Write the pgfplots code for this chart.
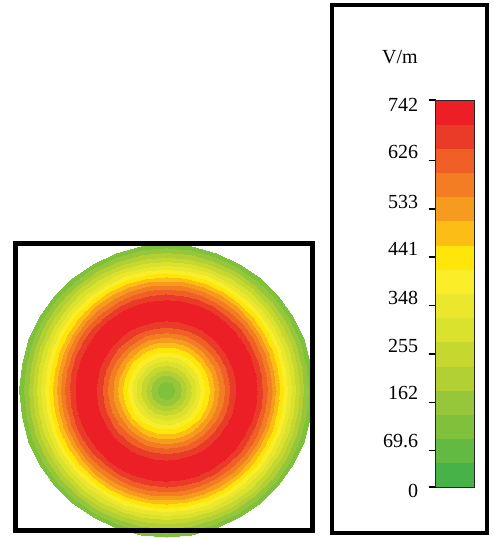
\documentclass[border=0pt]{standalone}
\usepackage{pgfplots}
\pgfplotsset{compat=1.18}
\usepackage{fontspec}
\setmainfont{Liberation Serif}
\newcommand{\lab}[2]{\raisebox{#1}[\height][\depth]{#2}}
\pgfplotsset{colormap={field}{
 rgb255=(70,178,72) rgb255=(98,186,66) rgb255=(128,193,60) rgb255=(150,199,58)
 rgb255=(178,208,52) rgb255=(198,216,48) rgb255=(218,226,46) rgb255=(234,231,44)
 rgb255=(250,238,40) rgb255=(255,230,10) rgb255=(252,190,20) rgb255=(247,155,30)
 rgb255=(243,125,35) rgb255=(240,95,38) rgb255=(234,58,40) rgb255=(236,30,38)}}
\begin{document}
\begin{tikzpicture}
\path (0pt,0pt) rectangle (494pt,538pt);
\coordinate (cbpos) at (427pt,51pt);
\begin{axis}[
  at={(15.5pt,8pt)}, anchor=south west,
  scale only axis, width=297pt, height=286.5pt,
  view={0}{90},
  xmin=-1.027, xmax=1.0, ymin=-0.952, ymax=1.003,
  xtick=\empty, ytick=\empty, ztick=\empty,
  axis line style={line width=5pt, black, line cap=rect},
  clip=false,
  colormap name=field,
  colormap access=piecewise constant,
  point meta min=0, point meta max=742,
  colorbar,
  colorbar style={
    at={(cbpos)}, anchor=south west,
    scale only axis, width=39pt, height=387pt,
    ytick={0,69.6,162,255,348,441,533,626,742},
    yticklabels={\lab{-4pt}{0},\lab{9.25pt}{69.6},\lab{9.5pt}{162},\lab{7.75pt}{255},\lab{8pt}{348},\lab{8.25pt}{441},\lab{7.5pt}{533},\lab{8.75pt}{626},\lab{-5pt}{742}},
    ytick pos=left, yticklabel pos=left,
    tick align=outside, major tick length=7pt,
    major tick style={line width=1.2pt, black},
    axis line style={line width=0.8pt, black!85, line cap=butt},
    yticklabel style={font=\fontsize{20}{20}\selectfont, xshift=-7pt},
  },
]
\addplot3[surf, shader=interp, data cs=polar, mesh/rows=21, mesh/cols=37, mesh/ordering=y varies,
  point meta=\thisrow{E}] table[x=a, y=r, z=E, row sep=\\] {
a r E\\
0 0 110\\ 0 0.05 130\\ 0 0.1 180\\ 0 0.15 250\\ 0 0.2 320\\ 0 0.25 400\\ 0 0.3 470\\ 0 0.35 540\\ 0 0.4 610\\ 0 0.45 670\\ 0 0.5 720\\ 0 0.55 742\\ 0 0.6 720\\ 0 0.65 660\\ 0 0.7 590\\ 0 0.75 510\\ 0 0.8 420\\ 0 0.85 330\\ 0 0.9 250\\ 0 0.95 170\\ 0 1 100\\
10 0 110\\ 10 0.05 130\\ 10 0.1 180\\ 10 0.15 250\\ 10 0.2 320\\ 10 0.25 400\\ 10 0.3 470\\ 10 0.35 540\\ 10 0.4 610\\ 10 0.45 670\\ 10 0.5 720\\ 10 0.55 742\\ 10 0.6 720\\ 10 0.65 660\\ 10 0.7 590\\ 10 0.75 510\\ 10 0.8 420\\ 10 0.85 330\\ 10 0.9 250\\ 10 0.95 170\\ 10 1 100\\
20 0 110\\ 20 0.05 130\\ 20 0.1 180\\ 20 0.15 250\\ 20 0.2 320\\ 20 0.25 400\\ 20 0.3 470\\ 20 0.35 540\\ 20 0.4 610\\ 20 0.45 670\\ 20 0.5 720\\ 20 0.55 742\\ 20 0.6 720\\ 20 0.65 660\\ 20 0.7 590\\ 20 0.75 510\\ 20 0.8 420\\ 20 0.85 330\\ 20 0.9 250\\ 20 0.95 170\\ 20 1 100\\
30 0 110\\ 30 0.05 130\\ 30 0.1 180\\ 30 0.15 250\\ 30 0.2 320\\ 30 0.25 400\\ 30 0.3 470\\ 30 0.35 540\\ 30 0.4 610\\ 30 0.45 670\\ 30 0.5 720\\ 30 0.55 742\\ 30 0.6 720\\ 30 0.65 660\\ 30 0.7 590\\ 30 0.75 510\\ 30 0.8 420\\ 30 0.85 330\\ 30 0.9 250\\ 30 0.95 170\\ 30 1 100\\
40 0 110\\ 40 0.05 130\\ 40 0.1 180\\ 40 0.15 250\\ 40 0.2 320\\ 40 0.25 400\\ 40 0.3 470\\ 40 0.35 540\\ 40 0.4 610\\ 40 0.45 670\\ 40 0.5 720\\ 40 0.55 742\\ 40 0.6 720\\ 40 0.65 660\\ 40 0.7 590\\ 40 0.75 510\\ 40 0.8 420\\ 40 0.85 330\\ 40 0.9 250\\ 40 0.95 170\\ 40 1 100\\
50 0 110\\ 50 0.05 130\\ 50 0.1 180\\ 50 0.15 250\\ 50 0.2 320\\ 50 0.25 400\\ 50 0.3 470\\ 50 0.35 540\\ 50 0.4 610\\ 50 0.45 670\\ 50 0.5 720\\ 50 0.55 742\\ 50 0.6 720\\ 50 0.65 660\\ 50 0.7 590\\ 50 0.75 510\\ 50 0.8 420\\ 50 0.85 330\\ 50 0.9 250\\ 50 0.95 170\\ 50 1 100\\
60 0 110\\ 60 0.05 130\\ 60 0.1 180\\ 60 0.15 250\\ 60 0.2 320\\ 60 0.25 400\\ 60 0.3 470\\ 60 0.35 540\\ 60 0.4 610\\ 60 0.45 670\\ 60 0.5 720\\ 60 0.55 742\\ 60 0.6 720\\ 60 0.65 660\\ 60 0.7 590\\ 60 0.75 510\\ 60 0.8 420\\ 60 0.85 330\\ 60 0.9 250\\ 60 0.95 170\\ 60 1 100\\
70 0 110\\ 70 0.05 130\\ 70 0.1 180\\ 70 0.15 250\\ 70 0.2 320\\ 70 0.25 400\\ 70 0.3 470\\ 70 0.35 540\\ 70 0.4 610\\ 70 0.45 670\\ 70 0.5 720\\ 70 0.55 742\\ 70 0.6 720\\ 70 0.65 660\\ 70 0.7 590\\ 70 0.75 510\\ 70 0.8 420\\ 70 0.85 330\\ 70 0.9 250\\ 70 0.95 170\\ 70 1 100\\
80 0 110\\ 80 0.05 130\\ 80 0.1 180\\ 80 0.15 250\\ 80 0.2 320\\ 80 0.25 400\\ 80 0.3 470\\ 80 0.35 540\\ 80 0.4 610\\ 80 0.45 670\\ 80 0.5 720\\ 80 0.55 742\\ 80 0.6 720\\ 80 0.65 660\\ 80 0.7 590\\ 80 0.75 510\\ 80 0.8 420\\ 80 0.85 330\\ 80 0.9 250\\ 80 0.95 170\\ 80 1 100\\
90 0 110\\ 90 0.05 130\\ 90 0.1 180\\ 90 0.15 250\\ 90 0.2 320\\ 90 0.25 400\\ 90 0.3 470\\ 90 0.35 540\\ 90 0.4 610\\ 90 0.45 670\\ 90 0.5 720\\ 90 0.55 742\\ 90 0.6 720\\ 90 0.65 660\\ 90 0.7 590\\ 90 0.75 510\\ 90 0.8 420\\ 90 0.85 330\\ 90 0.9 250\\ 90 0.95 170\\ 90 1 100\\
100 0 110\\ 100 0.05 130\\ 100 0.1 180\\ 100 0.15 250\\ 100 0.2 320\\ 100 0.25 400\\ 100 0.3 470\\ 100 0.35 540\\ 100 0.4 610\\ 100 0.45 670\\ 100 0.5 720\\ 100 0.55 742\\ 100 0.6 720\\ 100 0.65 660\\ 100 0.7 590\\ 100 0.75 510\\ 100 0.8 420\\ 100 0.85 330\\ 100 0.9 250\\ 100 0.95 170\\ 100 1 100\\
110 0 110\\ 110 0.05 130\\ 110 0.1 180\\ 110 0.15 250\\ 110 0.2 320\\ 110 0.25 400\\ 110 0.3 470\\ 110 0.35 540\\ 110 0.4 610\\ 110 0.45 670\\ 110 0.5 720\\ 110 0.55 742\\ 110 0.6 720\\ 110 0.65 660\\ 110 0.7 590\\ 110 0.75 510\\ 110 0.8 420\\ 110 0.85 330\\ 110 0.9 250\\ 110 0.95 170\\ 110 1 100\\
120 0 110\\ 120 0.05 130\\ 120 0.1 180\\ 120 0.15 250\\ 120 0.2 320\\ 120 0.25 400\\ 120 0.3 470\\ 120 0.35 540\\ 120 0.4 610\\ 120 0.45 670\\ 120 0.5 720\\ 120 0.55 742\\ 120 0.6 720\\ 120 0.65 660\\ 120 0.7 590\\ 120 0.75 510\\ 120 0.8 420\\ 120 0.85 330\\ 120 0.9 250\\ 120 0.95 170\\ 120 1 100\\
130 0 110\\ 130 0.05 130\\ 130 0.1 180\\ 130 0.15 250\\ 130 0.2 320\\ 130 0.25 400\\ 130 0.3 470\\ 130 0.35 540\\ 130 0.4 610\\ 130 0.45 670\\ 130 0.5 720\\ 130 0.55 742\\ 130 0.6 720\\ 130 0.65 660\\ 130 0.7 590\\ 130 0.75 510\\ 130 0.8 420\\ 130 0.85 330\\ 130 0.9 250\\ 130 0.95 170\\ 130 1 100\\
140 0 110\\ 140 0.05 130\\ 140 0.1 180\\ 140 0.15 250\\ 140 0.2 320\\ 140 0.25 400\\ 140 0.3 470\\ 140 0.35 540\\ 140 0.4 610\\ 140 0.45 670\\ 140 0.5 720\\ 140 0.55 742\\ 140 0.6 720\\ 140 0.65 660\\ 140 0.7 590\\ 140 0.75 510\\ 140 0.8 420\\ 140 0.85 330\\ 140 0.9 250\\ 140 0.95 170\\ 140 1 100\\
150 0 110\\ 150 0.05 130\\ 150 0.1 180\\ 150 0.15 250\\ 150 0.2 320\\ 150 0.25 400\\ 150 0.3 470\\ 150 0.35 540\\ 150 0.4 610\\ 150 0.45 670\\ 150 0.5 720\\ 150 0.55 742\\ 150 0.6 720\\ 150 0.65 660\\ 150 0.7 590\\ 150 0.75 510\\ 150 0.8 420\\ 150 0.85 330\\ 150 0.9 250\\ 150 0.95 170\\ 150 1 100\\
160 0 110\\ 160 0.05 130\\ 160 0.1 180\\ 160 0.15 250\\ 160 0.2 320\\ 160 0.25 400\\ 160 0.3 470\\ 160 0.35 540\\ 160 0.4 610\\ 160 0.45 670\\ 160 0.5 720\\ 160 0.55 742\\ 160 0.6 720\\ 160 0.65 660\\ 160 0.7 590\\ 160 0.75 510\\ 160 0.8 420\\ 160 0.85 330\\ 160 0.9 250\\ 160 0.95 170\\ 160 1 100\\
170 0 110\\ 170 0.05 130\\ 170 0.1 180\\ 170 0.15 250\\ 170 0.2 320\\ 170 0.25 400\\ 170 0.3 470\\ 170 0.35 540\\ 170 0.4 610\\ 170 0.45 670\\ 170 0.5 720\\ 170 0.55 742\\ 170 0.6 720\\ 170 0.65 660\\ 170 0.7 590\\ 170 0.75 510\\ 170 0.8 420\\ 170 0.85 330\\ 170 0.9 250\\ 170 0.95 170\\ 170 1 100\\
180 0 110\\ 180 0.05 130\\ 180 0.1 180\\ 180 0.15 250\\ 180 0.2 320\\ 180 0.25 400\\ 180 0.3 470\\ 180 0.35 540\\ 180 0.4 610\\ 180 0.45 670\\ 180 0.5 720\\ 180 0.55 742\\ 180 0.6 720\\ 180 0.65 660\\ 180 0.7 590\\ 180 0.75 510\\ 180 0.8 420\\ 180 0.85 330\\ 180 0.9 250\\ 180 0.95 170\\ 180 1 100\\
190 0 110\\ 190 0.05 130\\ 190 0.1 180\\ 190 0.15 250\\ 190 0.2 320\\ 190 0.25 400\\ 190 0.3 470\\ 190 0.35 540\\ 190 0.4 610\\ 190 0.45 670\\ 190 0.5 720\\ 190 0.55 742\\ 190 0.6 720\\ 190 0.65 660\\ 190 0.7 590\\ 190 0.75 510\\ 190 0.8 420\\ 190 0.85 330\\ 190 0.9 250\\ 190 0.95 170\\ 190 1 100\\
200 0 110\\ 200 0.05 130\\ 200 0.1 180\\ 200 0.15 250\\ 200 0.2 320\\ 200 0.25 400\\ 200 0.3 470\\ 200 0.35 540\\ 200 0.4 610\\ 200 0.45 670\\ 200 0.5 720\\ 200 0.55 742\\ 200 0.6 720\\ 200 0.65 660\\ 200 0.7 590\\ 200 0.75 510\\ 200 0.8 420\\ 200 0.85 330\\ 200 0.9 250\\ 200 0.95 170\\ 200 1 100\\
210 0 110\\ 210 0.05 130\\ 210 0.1 180\\ 210 0.15 250\\ 210 0.2 320\\ 210 0.25 400\\ 210 0.3 470\\ 210 0.35 540\\ 210 0.4 610\\ 210 0.45 670\\ 210 0.5 720\\ 210 0.55 742\\ 210 0.6 720\\ 210 0.65 660\\ 210 0.7 590\\ 210 0.75 510\\ 210 0.8 420\\ 210 0.85 330\\ 210 0.9 250\\ 210 0.95 170\\ 210 1 100\\
220 0 110\\ 220 0.05 130\\ 220 0.1 180\\ 220 0.15 250\\ 220 0.2 320\\ 220 0.25 400\\ 220 0.3 470\\ 220 0.35 540\\ 220 0.4 610\\ 220 0.45 670\\ 220 0.5 720\\ 220 0.55 742\\ 220 0.6 720\\ 220 0.65 660\\ 220 0.7 590\\ 220 0.75 510\\ 220 0.8 420\\ 220 0.85 330\\ 220 0.9 250\\ 220 0.95 170\\ 220 1 100\\
230 0 110\\ 230 0.05 130\\ 230 0.1 180\\ 230 0.15 250\\ 230 0.2 320\\ 230 0.25 400\\ 230 0.3 470\\ 230 0.35 540\\ 230 0.4 610\\ 230 0.45 670\\ 230 0.5 720\\ 230 0.55 742\\ 230 0.6 720\\ 230 0.65 660\\ 230 0.7 590\\ 230 0.75 510\\ 230 0.8 420\\ 230 0.85 330\\ 230 0.9 250\\ 230 0.95 170\\ 230 1 100\\
240 0 110\\ 240 0.05 130\\ 240 0.1 180\\ 240 0.15 250\\ 240 0.2 320\\ 240 0.25 400\\ 240 0.3 470\\ 240 0.35 540\\ 240 0.4 610\\ 240 0.45 670\\ 240 0.5 720\\ 240 0.55 742\\ 240 0.6 720\\ 240 0.65 660\\ 240 0.7 590\\ 240 0.75 510\\ 240 0.8 420\\ 240 0.85 330\\ 240 0.9 250\\ 240 0.95 170\\ 240 1 100\\
250 0 110\\ 250 0.05 130\\ 250 0.1 180\\ 250 0.15 250\\ 250 0.2 320\\ 250 0.25 400\\ 250 0.3 470\\ 250 0.35 540\\ 250 0.4 610\\ 250 0.45 670\\ 250 0.5 720\\ 250 0.55 742\\ 250 0.6 720\\ 250 0.65 660\\ 250 0.7 590\\ 250 0.75 510\\ 250 0.8 420\\ 250 0.85 330\\ 250 0.9 250\\ 250 0.95 170\\ 250 1 100\\
260 0 110\\ 260 0.05 130\\ 260 0.1 180\\ 260 0.15 250\\ 260 0.2 320\\ 260 0.25 400\\ 260 0.3 470\\ 260 0.35 540\\ 260 0.4 610\\ 260 0.45 670\\ 260 0.5 720\\ 260 0.55 742\\ 260 0.6 720\\ 260 0.65 660\\ 260 0.7 590\\ 260 0.75 510\\ 260 0.8 420\\ 260 0.85 330\\ 260 0.9 250\\ 260 0.95 170\\ 260 1 100\\
270 0 110\\ 270 0.05 130\\ 270 0.1 180\\ 270 0.15 250\\ 270 0.2 320\\ 270 0.25 400\\ 270 0.3 470\\ 270 0.35 540\\ 270 0.4 610\\ 270 0.45 670\\ 270 0.5 720\\ 270 0.55 742\\ 270 0.6 720\\ 270 0.65 660\\ 270 0.7 590\\ 270 0.75 510\\ 270 0.8 420\\ 270 0.85 330\\ 270 0.9 250\\ 270 0.95 170\\ 270 1 100\\
280 0 110\\ 280 0.05 130\\ 280 0.1 180\\ 280 0.15 250\\ 280 0.2 320\\ 280 0.25 400\\ 280 0.3 470\\ 280 0.35 540\\ 280 0.4 610\\ 280 0.45 670\\ 280 0.5 720\\ 280 0.55 742\\ 280 0.6 720\\ 280 0.65 660\\ 280 0.7 590\\ 280 0.75 510\\ 280 0.8 420\\ 280 0.85 330\\ 280 0.9 250\\ 280 0.95 170\\ 280 1 100\\
290 0 110\\ 290 0.05 130\\ 290 0.1 180\\ 290 0.15 250\\ 290 0.2 320\\ 290 0.25 400\\ 290 0.3 470\\ 290 0.35 540\\ 290 0.4 610\\ 290 0.45 670\\ 290 0.5 720\\ 290 0.55 742\\ 290 0.6 720\\ 290 0.65 660\\ 290 0.7 590\\ 290 0.75 510\\ 290 0.8 420\\ 290 0.85 330\\ 290 0.9 250\\ 290 0.95 170\\ 290 1 100\\
300 0 110\\ 300 0.05 130\\ 300 0.1 180\\ 300 0.15 250\\ 300 0.2 320\\ 300 0.25 400\\ 300 0.3 470\\ 300 0.35 540\\ 300 0.4 610\\ 300 0.45 670\\ 300 0.5 720\\ 300 0.55 742\\ 300 0.6 720\\ 300 0.65 660\\ 300 0.7 590\\ 300 0.75 510\\ 300 0.8 420\\ 300 0.85 330\\ 300 0.9 250\\ 300 0.95 170\\ 300 1 100\\
310 0 110\\ 310 0.05 130\\ 310 0.1 180\\ 310 0.15 250\\ 310 0.2 320\\ 310 0.25 400\\ 310 0.3 470\\ 310 0.35 540\\ 310 0.4 610\\ 310 0.45 670\\ 310 0.5 720\\ 310 0.55 742\\ 310 0.6 720\\ 310 0.65 660\\ 310 0.7 590\\ 310 0.75 510\\ 310 0.8 420\\ 310 0.85 330\\ 310 0.9 250\\ 310 0.95 170\\ 310 1 100\\
320 0 110\\ 320 0.05 130\\ 320 0.1 180\\ 320 0.15 250\\ 320 0.2 320\\ 320 0.25 400\\ 320 0.3 470\\ 320 0.35 540\\ 320 0.4 610\\ 320 0.45 670\\ 320 0.5 720\\ 320 0.55 742\\ 320 0.6 720\\ 320 0.65 660\\ 320 0.7 590\\ 320 0.75 510\\ 320 0.8 420\\ 320 0.85 330\\ 320 0.9 250\\ 320 0.95 170\\ 320 1 100\\
330 0 110\\ 330 0.05 130\\ 330 0.1 180\\ 330 0.15 250\\ 330 0.2 320\\ 330 0.25 400\\ 330 0.3 470\\ 330 0.35 540\\ 330 0.4 610\\ 330 0.45 670\\ 330 0.5 720\\ 330 0.55 742\\ 330 0.6 720\\ 330 0.65 660\\ 330 0.7 590\\ 330 0.75 510\\ 330 0.8 420\\ 330 0.85 330\\ 330 0.9 250\\ 330 0.95 170\\ 330 1 100\\
340 0 110\\ 340 0.05 130\\ 340 0.1 180\\ 340 0.15 250\\ 340 0.2 320\\ 340 0.25 400\\ 340 0.3 470\\ 340 0.35 540\\ 340 0.4 610\\ 340 0.45 670\\ 340 0.5 720\\ 340 0.55 742\\ 340 0.6 720\\ 340 0.65 660\\ 340 0.7 590\\ 340 0.75 510\\ 340 0.8 420\\ 340 0.85 330\\ 340 0.9 250\\ 340 0.95 170\\ 340 1 100\\
350 0 110\\ 350 0.05 130\\ 350 0.1 180\\ 350 0.15 250\\ 350 0.2 320\\ 350 0.25 400\\ 350 0.3 470\\ 350 0.35 540\\ 350 0.4 610\\ 350 0.45 670\\ 350 0.5 720\\ 350 0.55 742\\ 350 0.6 720\\ 350 0.65 660\\ 350 0.7 590\\ 350 0.75 510\\ 350 0.8 420\\ 350 0.85 330\\ 350 0.9 250\\ 350 0.95 170\\ 350 1 100\\
360 0 110\\ 360 0.05 130\\ 360 0.1 180\\ 360 0.15 250\\ 360 0.2 320\\ 360 0.25 400\\ 360 0.3 470\\ 360 0.35 540\\ 360 0.4 610\\ 360 0.45 670\\ 360 0.5 720\\ 360 0.55 742\\ 360 0.6 720\\ 360 0.65 660\\ 360 0.7 590\\ 360 0.75 510\\ 360 0.8 420\\ 360 0.85 330\\ 360 0.9 250\\ 360 0.95 170\\ 360 1 100\\
};
\end{axis}
\draw[line width=4.5pt] (332pt,5pt) rectangle (487pt,533pt);
\node[anchor=base east, inner sep=0pt, font=\fontsize{20}{20}\selectfont] at (418pt,474pt) {V/m};
\end{tikzpicture}
\end{document}
